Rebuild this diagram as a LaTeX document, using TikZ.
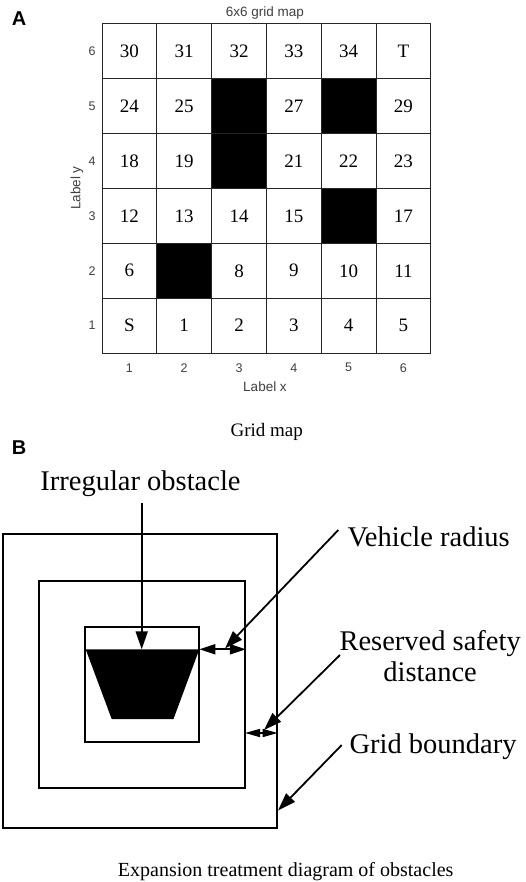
\documentclass[tikz,border=0pt]{standalone}
\usepackage{fontspec}
\setmainfont{Liberation Serif}
\newfontfamily\lsans{Liberation Sans}
\usetikzlibrary{arrows.meta,calc}
\begin{document}
\begin{tikzpicture}[x=1pt,y=-1pt,
  axlab/.style={font=\lsans\fontsize{12.5}{14}\selectfont,text=black!75},
  celltxt/.style={font=\fontsize{19}{21}\selectfont},
  bigtxt/.style={font=\fontsize{28.5}{31}\selectfont},
  captxt/.style={font=\fontsize{20}{22}\selectfont},
  panel/.style={font=\lsans\bfseries\fontsize{20}{22}\selectfont},
  gridln/.style={line width=1pt,draw=black!85},
  boxln/.style={line width=1.8pt},
  arr/.style={line width=1.8pt,-{Triangle[length=18pt,width=12pt]}},
  darr/.style={line width=1.8pt,{Triangle[length=16pt,width=10pt]}-{Triangle[length=16pt,width=10pt]}},
  sarr/.style={line width=1.5pt,{Triangle[length=15pt,width=8pt]}-{Triangle[length=15pt,width=8pt]}}
]
\useasboundingbox (0,0) rectangle (526,882);
\fill[white] (0,0) rectangle (526,882);
% ---------- Panel A ----------
\node[panel] (pA) at (19,19) {A};
\node[axlab,font=\lsans\fontsize{13.5}{15}\selectfont] (title) at (265,12.7) {6x6 grid map};
\def\gx{102}\def\gy{353}\def\cw{54.8}
% black cells
\fill[black] (211,78.7) rectangle (266.7,188.7);
\fill[black] (321.3,78.7) rectangle (376,133.7);
\fill[black] (321.3,188.7) rectangle (376,243.3);
\fill[black] (156.5,243.3) rectangle (211,298);
% grid lines
\foreach \xx in {102,156.5,211,266.7,321.3,376,430.7}
  \draw[gridln] (\xx,24) -- (\xx,353);
\foreach \yy in {24,78.7,133.7,188.7,243.3,298,353}
  \draw[gridln] (102,\yy) -- (430.7,\yy);
% cell labels
\foreach \c/\r/\t in {1/1/S,2/1/1,3/1/2,4/1/3,5/1/4,6/1/5,
  1/2/6,3/2/8,4/2/9,5/2/10,6/2/11,
  1/3/12,2/3/13,3/3/14,4/3/15,6/3/17,
  1/4/18,2/4/19,4/4/21,5/4/22,6/4/23,
  1/5/24,2/5/25,4/5/27,6/5/29,
  1/6/30,2/6/31,3/6/32,4/6/33,5/6/34,6/6/T}
  \node[celltxt] (cell\c-\r) at ({\gx+(\c-0.5)*\cw},{\gy-(\r-0.5)*\cw}) {\t};
% ticks
\foreach \i in {1,...,6}{
  \node[axlab] (xt\i) at ({\gx+(\i-0.5)*\cw},367.7) {\i};
  \node[axlab] (yt\i) at (92,{\gy-(\i-0.5)*\cw}) {\i};
}
\node[axlab,font=\lsans\fontsize{13.5}{15}\selectfont] (labx) at (265,386.7) {Label x};
\node[axlab,font=\lsans\fontsize{13.5}{15}\selectfont,rotate=90] (laby) at (77,188) {Label y};
\node[captxt,font=\fontsize{19}{21}\selectfont] (capA) at (266.7,431.7) {Grid map};
% ---------- Panel B ----------
\node[panel] (pB) at (19,448) {B};
\node[draw,boxln,minimum width=274pt,minimum height=294.3pt,inner sep=0pt] (outer) at (139.7,681.2) {};
\node[draw,boxln,minimum width=205.7pt,minimum height=207.3pt,inner sep=0pt] (middle) at (142.2,684.7) {};
\node[draw,boxln,minimum width=114.6pt,minimum height=115pt,inner sep=0pt] (inner) at (142,684.2) {};
\coordinate (tl) at (85.7,649.3);
\coordinate (tr) at (199.3,649.3);
\coordinate (br) at (173.5,719);
\coordinate (bl) at (111.7,719);
\fill[black] (tl) -- (tr) -- (br) -- (bl) -- cycle;
\node[bigtxt] (irr) at (140.5,483.3) {Irregular obstacle};
\node[bigtxt,anchor=west] (veh) at (344,536.7) {Vehicle radius};
\node[bigtxt,anchor=west,align=center] (res) at (336,656.5) {Reserved safety\\distance};
\node[bigtxt,anchor=west] (gb) at (346,746.7) {Grid boundary};
\node[captxt] (capB) at (285.7,871.7) {Expansion treatment diagram of obstacles};
% arrows
\coordinate (irrtip) at (141.7,649.3);
\draw[arr] (141.7,503) -- (irrtip);
\coordinate (vehtip) at (225,648.5);
\draw[arr] (338.3,530) -- (vehtip);
\draw[darr] (tr) -- (middle.east |- tr);
\coordinate (restip) at (264,730);
\draw[arr] (340,655) -- (restip);
\draw[sarr] (245,733) -- (outer.east |- 0,733);
\coordinate (gbtip) at (278,810.5);
\draw[arr] (341.7,745) -- (gbtip);
\end{tikzpicture}
\end{document}
